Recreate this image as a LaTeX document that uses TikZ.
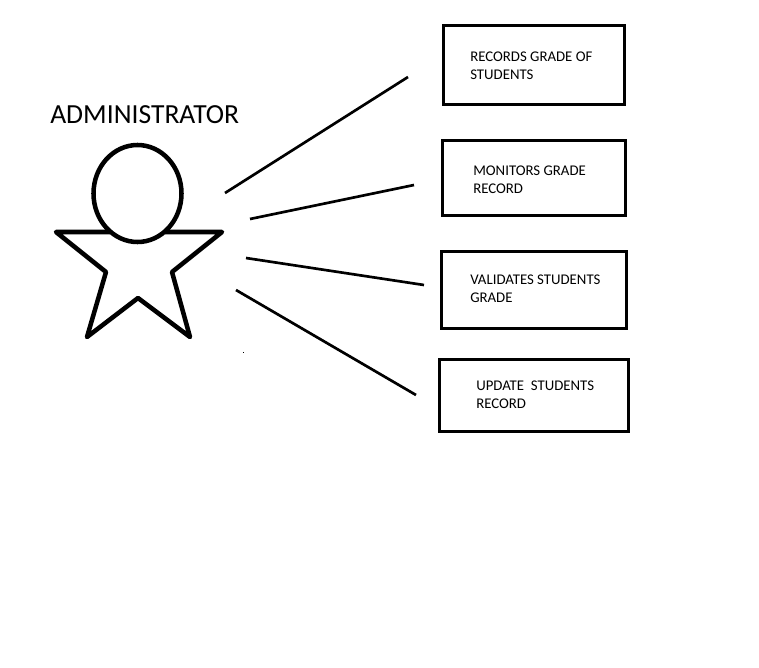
\documentclass[tikz,border=0pt]{standalone}
\usepackage{fontspec}
\setmainfont{Carlito}
\tikzset{
  x=0.75pt,y=-0.75pt,
  outline/.style={draw=black,line width=3.4pt,line join=round},
  boxframe/.style={draw=black,line width=2.25pt},
  link/.style={draw=black,line width=2pt},
  boxtext/.style={anchor=north west,inner sep=0pt,align=left,text=black,font=\fontsize{11.1}{13.5}\selectfont},
  title/.style={anchor=base west,inner sep=0pt,text=black,font=\fontsize{20.7}{24}\selectfont},
}
\begin{document}
\begin{tikzpicture}
\useasboundingbox (0,0) rectangle (759,667);
\node[title] (admin) at (50,123) {ADMINISTRATOR};
% actor
\draw[outline] (110,232) -- (56,232) -- (106,272) -- (87,337) -- (138,298) -- (190,337) -- (172,272) -- (222,232) -- (165,232);
\draw[outline] (137.5,193.5) ellipse [x radius=44,y radius=48.5];
\fill[black] (243,352) rectangle (244,353);
% boxes
\draw[boxframe] (443.5,26) rectangle (624.5,104);
\draw[boxframe] (442.5,140.5) rectangle (625.5,215.5);
\draw[boxframe] (441.5,251.5) rectangle (626.5,328.5);
\draw[boxframe] (439.5,359.5) rectangle (628.5,431);
\node[boxtext] (t1) at (470,52) {RECORDS GRADE OF\\STUDENTS};
\node[boxtext] (t2) at (473,166) {MONITORS GRADE\\RECORD};
\node[boxtext] (t3) at (470,275) {VALIDATES STUDENTS\\GRADE};
\node[boxtext] (t4) at (476,381) {UPDATE\ \ STUDENTS\\RECORD};
% connectors
\coordinate (a1) at (225,193); \coordinate (e1) at (408,77);
\coordinate (a2) at (250,219); \coordinate (e2) at (414,185);
\coordinate (a3) at (246,258); \coordinate (e3) at (424,285);
\coordinate (a4) at (236,290); \coordinate (e4) at (416,395);
\draw[link] (a1) -- (e1);
\draw[link] (a2) -- (e2);
\draw[link] (a3) -- (e3);
\draw[link] (a4) -- (e4);
\end{tikzpicture}
\end{document}
